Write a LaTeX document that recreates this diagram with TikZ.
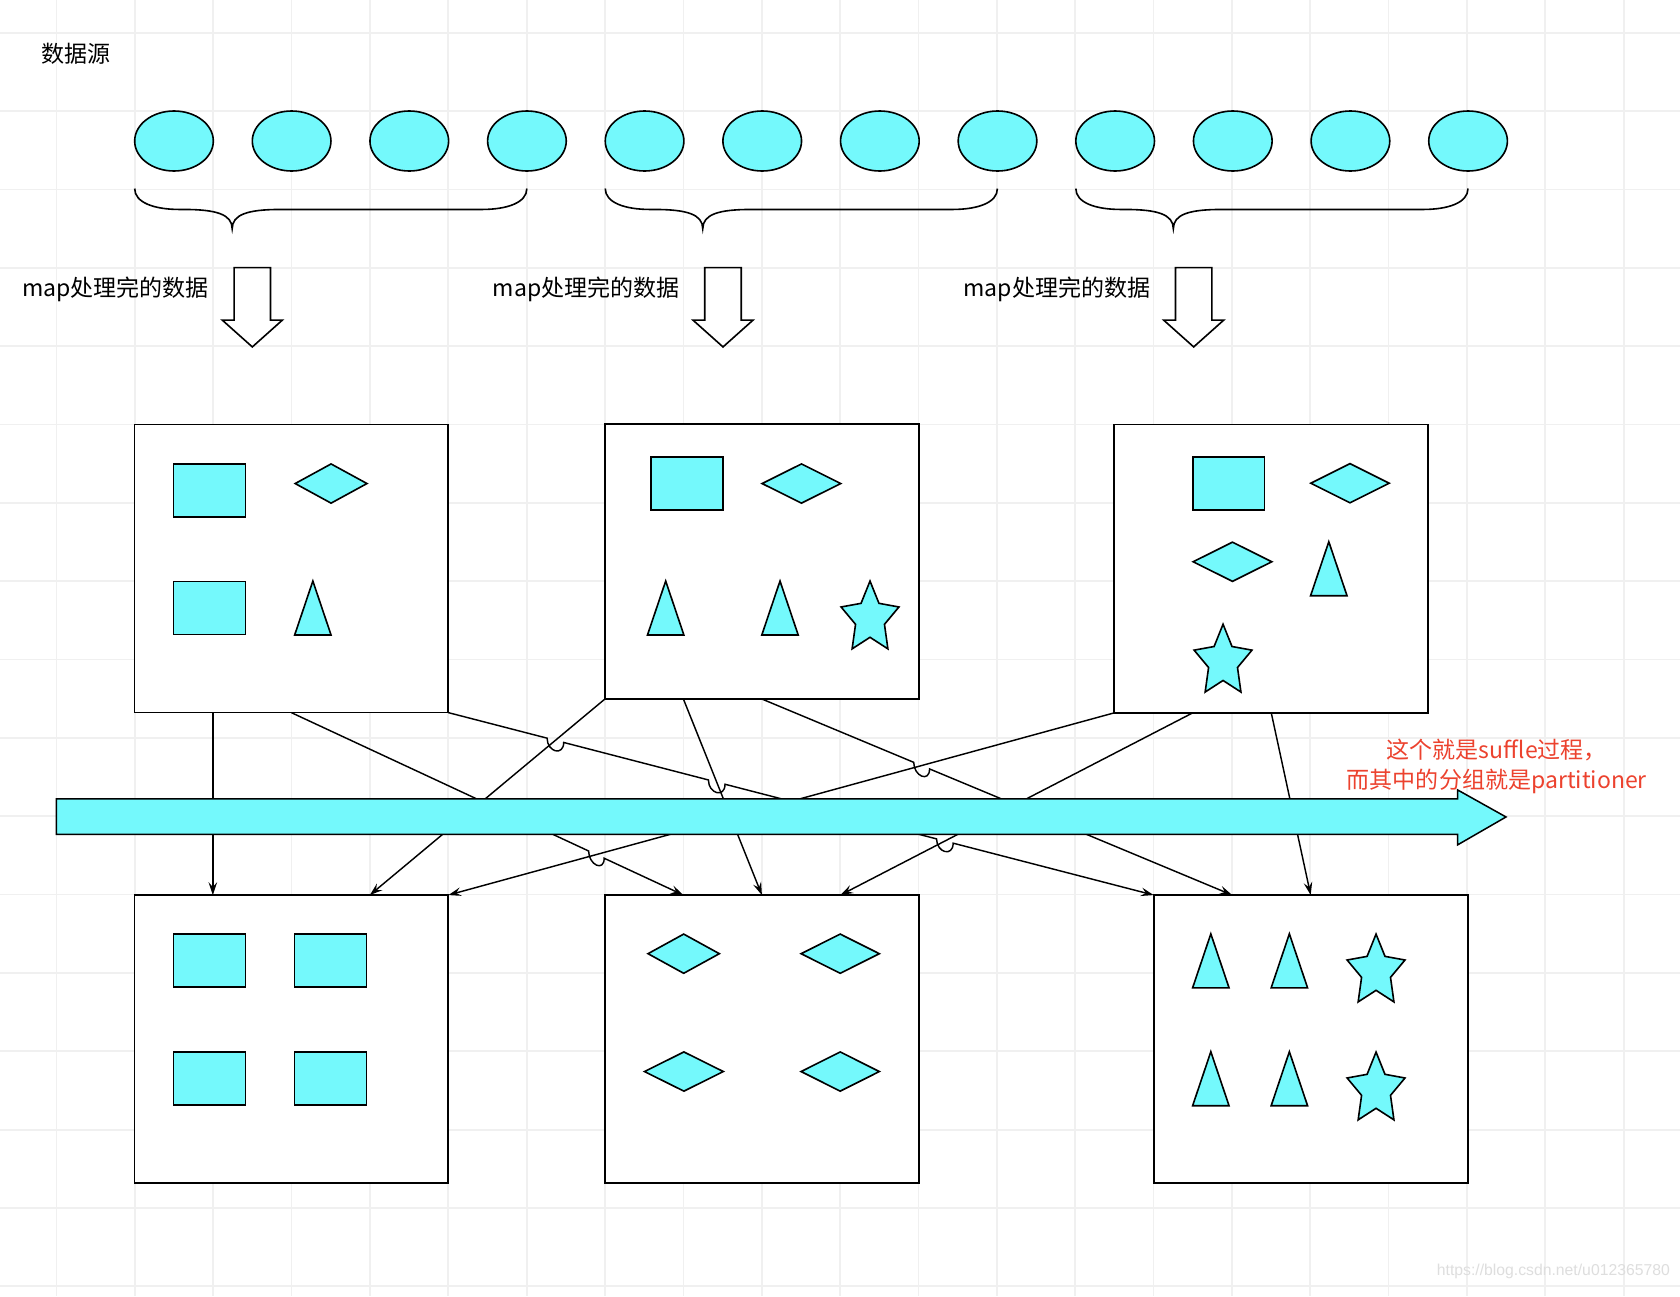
\documentclass[tikz,border=0pt]{standalone}
\usepackage{fontspec}
\setmainfont{Noto Sans CJK SC}
\newfontfamily\urlfont{Liberation Sans}
\usetikzlibrary{calc,arrows.meta}

\definecolor{itemcyan}{RGB}{116,249,252}
\definecolor{noteRed}{RGB}{236,66,46}

\tikzstyle{gridline}=[draw=black!6, line width=1.6pt]
\tikzstyle{shapeicon}=[draw=black, fill=itemcyan, line width=1.5pt]
\tikzstyle{mapbox}=[draw=black, fill=white, line width=1.6pt, rectangle, minimum width=293pt, minimum height=269pt, inner sep=0pt, outer sep=0pt]
\tikzstyle{flow}=[draw=black, line width=1.35pt, -{Stealth[length=12pt,width=8pt,inset=4.5pt]}]
\tikzstyle{txt}=[font=\fontsize{21.5}{26}\selectfont, anchor=base west, inner sep=0pt]

\tikzset{
  recticon/.pic={\draw[shapeicon] (-33.5,-24.8) rectangle (33.5,24.8);},
  diaicon/.pic={\draw[shapeicon] (-#1,0) -- (0,-18.3) -- (#1,0) -- (0,18.3) -- cycle;},
  triicon/.pic={\draw[shapeicon] (0,-25.2) -- (17,25.2) -- (-17,25.2) -- cycle;},
  staricon/.pic={\draw[shapeicon] (0,-35) -- (8.35,-14.2) -- (27,-10.8) -- (13.5,5.4) -- (16.7,28.3)
      -- (0,17.5) -- (-16.7,28.3) -- (-13.5,5.4) -- (-27,-10.8) -- (-8.35,-14.2) -- cycle;},
  groupbrace/.pic={\draw[line width=1.5pt] (0,0) .. controls (0,13) and (18,19.5) .. (42,19.5) -- (46,19.5)
      .. controls (76,19.5) and (91,24) .. (91,37.5) .. controls (91,24) and (106,19.5) .. (136,19.5)
      -- (324,19.5) .. controls (348,19.5) and (366,13) .. (366,0);},
  hollowdown/.pic={\draw[draw=black, fill=white, line width=1.5pt] (-17,0) -- (17,0) -- (17,49) -- (28,49)
      -- (0,74) -- (-28,49) -- (-17,49) -- cycle;}
}

\begin{document}
\begin{tikzpicture}[x=1pt, y=-1pt]

\fill[white] (0,0) rectangle (1568,1210);
\useasboundingbox (0,0) rectangle (1568,1210);

% grid
\foreach \gx in {0,...,20} \draw[gridline] ({52.8+73.13*\gx},0) -- ({52.8+73.13*\gx},1210);
\foreach \gy in {0,...,16} \draw[gridline] (0,{30.5+73.13*\gy}) -- (1568,{30.5+73.13*\gy});

% data source
\node[txt] (source) at (38.2,58) {数据源};

\draw[shapeicon] (162.4,131.6) ellipse [x radius=36.7, y radius=28];
\draw[shapeicon] (272.2,131.6) ellipse [x radius=36.7, y radius=28];
\draw[shapeicon] (382.0,131.6) ellipse [x radius=36.7, y radius=28];
\draw[shapeicon] (491.8,131.6) ellipse [x radius=36.7, y radius=28];
\draw[shapeicon] (601.6,131.6) ellipse [x radius=36.7, y radius=28];
\draw[shapeicon] (711.4,131.6) ellipse [x radius=36.7, y radius=28];
\draw[shapeicon] (821.2,131.6) ellipse [x radius=36.7, y radius=28];
\draw[shapeicon] (931.0,131.6) ellipse [x radius=36.7, y radius=28];
\draw[shapeicon] (1040.8,131.6) ellipse [x radius=36.7, y radius=28];
\draw[shapeicon] (1150.6,131.6) ellipse [x radius=36.7, y radius=28];
\draw[shapeicon] (1260.4,131.6) ellipse [x radius=36.7, y radius=28];
\draw[shapeicon] (1370.2,131.6) ellipse [x radius=36.7, y radius=28];

\pic at (125.7,176) {groupbrace};
\pic at (564.9,176) {groupbrace};
\pic at (1004.1,176) {groupbrace};

% map output
\node[txt] (note1) at (20.4,277) {map处理完的数据};
\node[txt] (note2) at (459.7,277) {map处理完的数据};
\node[txt] (note3) at (899.0,277) {map处理完的数据};
\pic at (235.5,249.8) {hollowdown};
\pic at (674.8,249.8) {hollowdown};
\pic at (1114.1,249.8) {hollowdown};

\node[mapbox] (mapA) at (271.9,530.6) {};
\node[mapbox, minimum height=256.4pt] (mapB) at (711.1,524.2) {};
\node[mapbox] (mapC) at (1186.5,530.8) {};

\pic at (195.5,457.6) {recticon};
\pic at (309,451.3) {diaicon=33.5};
\pic at (195.5,567.5) {recticon};
\pic at (292,567.5) {triicon};

\pic at (641.2,451.4) {recticon};
\pic at (748,451.3) {diaicon=36.7};
\pic at (621.3,567.5) {triicon};
\pic at (728,567.5) {triicon};
\pic at (812,577.3) {staricon};

\pic at (1146.8,451.2) {recticon};
\pic at (1260,451) {diaicon=36.6};
\pic at (1150.3,524.3) {diaicon=36.7};
\pic at (1240.2,530.8) {triicon};
\pic at (1141.5,617.6) {staricon};

% reduce side
\node[mapbox] (redD) at (271.9,969.9) {};
\node[mapbox] (redE) at (711.1,969.9) {};
\node[mapbox] (redF) at (1223.3,969.9) {};

\pic at (195.5,896.5) {recticon};
\pic at (308.5,896.5) {recticon};
\pic at (195.5,1006.5) {recticon};
\pic at (308.5,1006.5) {recticon};

\pic at (638.1,890.1) {diaicon=33.3};
\pic at (784.2,890.1) {diaicon=36.5};
\pic at (638.3,1000.1) {diaicon=36.8};
\pic at (784.2,1000.1) {diaicon=36.5};

\pic at (1130.1,896.8) {triicon};
\pic at (1203.4,896.8) {triicon};
\pic at (1284.3,906.8) {staricon};
\pic at (1130.1,1006.8) {triicon};
\pic at (1203.4,1006.8) {triicon};
\pic at (1284.3,1016.9) {staricon};

% ports
\coordinate (a25) at ($(mapA.south west)!0.25!(mapA.south east)$);
\coordinate (a50) at ($(mapA.south west)!0.5!(mapA.south east)$);
\coordinate (a100) at (mapA.south east);
\coordinate (b0) at (mapB.south west);
\coordinate (b25) at ($(mapB.south west)!0.25!(mapB.south east)$);
\coordinate (b50) at ($(mapB.south west)!0.5!(mapB.south east)$);
\coordinate (c0) at (mapC.south west);
\coordinate (c25) at ($(mapC.south west)!0.25!(mapC.south east)$);
\coordinate (c50) at ($(mapC.south west)!0.5!(mapC.south east)$);
\coordinate (d25) at ($(redD.north west)!0.25!(redD.north east)$);
\coordinate (d75) at ($(redD.north west)!0.75!(redD.north east)$);
\coordinate (d100) at (redD.north east);
\coordinate (e25) at ($(redE.north west)!0.25!(redE.north east)$);
\coordinate (e50) at ($(redE.north west)!0.5!(redE.north east)$);
\coordinate (e75) at ($(redE.north west)!0.75!(redE.north east)$);
\coordinate (f0) at (redF.north west);
\coordinate (f25) at ($(redF.north west)!0.25!(redF.north east)$);
\coordinate (f50) at ($(redF.north west)!0.5!(redF.north east)$);

% line jumps
\coordinate (j1) at (intersection of a100--f0 and b0--d75);
\coordinate (j2) at (intersection of a100--f0 and b25--e50);
\coordinate (j3) at (intersection of a100--f0 and c25--e75);
\coordinate (j4) at (intersection of a50--e25 and c0--d100);
\coordinate (j5) at (intersection of b50--f25 and c0--d100);

% shuffle
\draw[flow] (a25) -- (d25);
\draw[flow] (a50) -- ($(j4)!8pt!(a50)$) .. controls +(0,13) and +(0,13) .. ($(j4)!8pt!(e25)$) -- (e25);
\draw[flow] (a100) -- ($(j1)!8pt!(a100)$) .. controls +(0,13) and +(0,13) .. ($(j1)!8pt!(f0)$)
  -- ($(j2)!8pt!(a100)$) .. controls +(0,13) and +(0,13) .. ($(j2)!8pt!(f0)$)
  -- ($(j3)!8pt!(a100)$) .. controls +(0,13) and +(0,13) .. ($(j3)!8pt!(f0)$) -- (f0);
\draw[flow] (b0) -- (d75);
\draw[flow] (b25) -- (e50);
\draw[flow] (b50) -- ($(j5)!8pt!(b50)$) .. controls +(0,13) and +(0,13) .. ($(j5)!8pt!(f25)$) -- (f25);
\draw[flow] (c0) -- (d100);
\draw[flow] (c25) -- (e75);
\draw[flow] (c50) -- (f50);

\draw[shapeicon, line width=1.4pt] (52.5,745.7) -- (1360.5,745.7) -- (1360.5,737.3) -- (1405.6,762.5)
  -- (1360.5,788.5) -- (1360.5,778.7) -- (52.5,778.7) -- cycle;

\node[font=\fontsize{21.5}{28}\selectfont, text=noteRed, align=center, inner sep=0pt] (shufflenote) at (1397,715)
  {这个就是suffle过程，\\而其中的分组就是partitioner};

\node[font=\urlfont\fontsize{14.7}{17}\selectfont, text=black!13, anchor=base east, inner sep=0pt] (watermark)
  at (1558.7,1190) {https://blog.csdn.net/u012365780};

\end{tikzpicture}
\end{document}
